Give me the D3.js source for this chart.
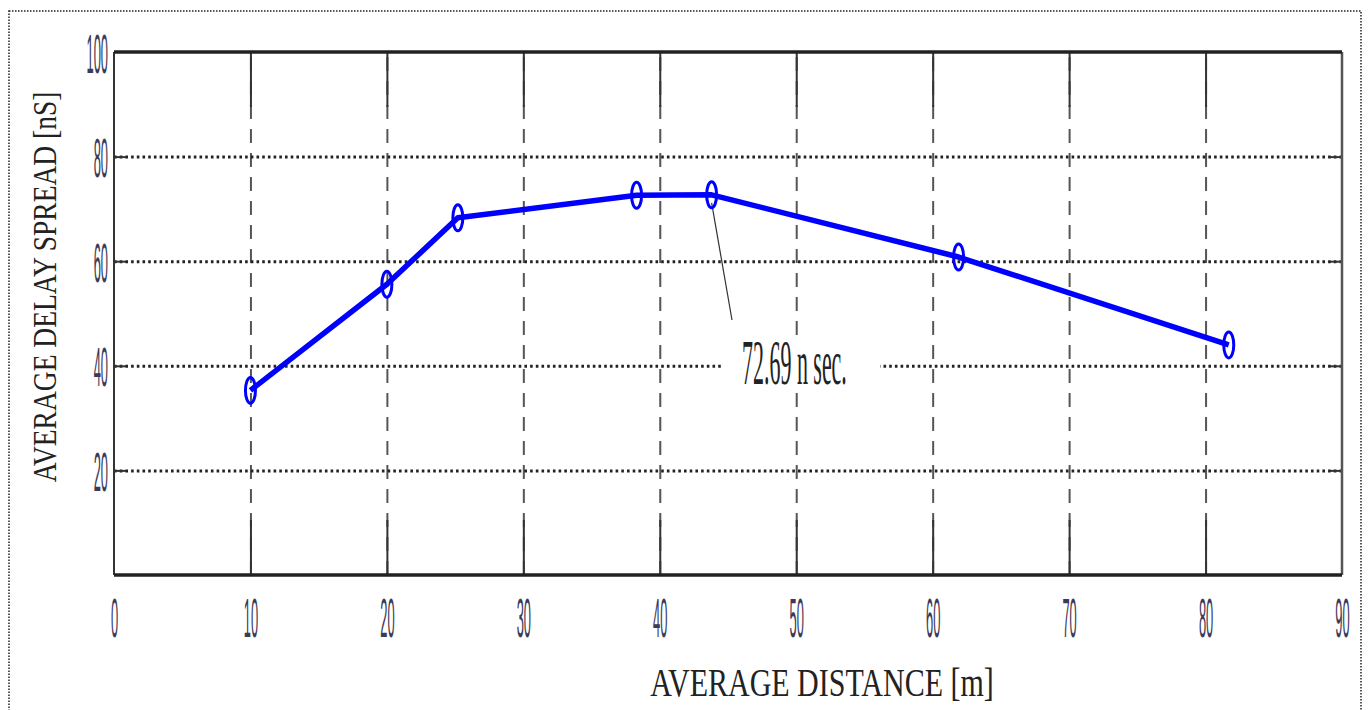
<!DOCTYPE html>
<html>
<head>
<meta charset="utf-8">
<script src="https://d3js.org/d3.v7.min.js"></script>
<style>
body { margin: 0; background: #fff; }
</style>
</head>
<body>
<script>
// data
const distance = [10, 20, 25.2, 38.3, 43.8, 61.9, 81.7];
const delaySpread = [35.3, 55.6, 68.3, 72.6, 72.69, 60.8, 44.0];
const xTicks = [0, 10, 20, 30, 40, 50, 60, 70, 80, 90];
const yTicks = [20, 40, 60, 80, 100];
const peakLabel = "72.69 n sec.";

const width = 1369, height = 710;
const plotL = 114, plotR = 1342, plotT = 52, plotB = 575;
const serif = "'Liberation Serif', 'Times New Roman', 'DejaVu Serif', serif";
const sans = "'Liberation Sans', Arial, sans-serif";

var svg = d3.select("body").append("svg")
  .attr("width", width)
  .attr("height", height);

var x = d3.scaleLinear().domain([0, 90]).range([plotL, plotR]);
var y = d3.scaleLinear().domain([0, 100]).range([plotB, plotT]);

// dotted outer border
svg.append("rect")
  .attr("x", 9).attr("y", 11)
  .attr("width", 1352).attr("height", 720)
  .attr("fill", "none")
  .attr("stroke", "#222")
  .attr("stroke-width", 1.5)
  .attr("stroke-dasharray", "1.5,1.5");

// vertical grid (dashed)
svg.append("g")
  .attr("transform", "translate(0," + plotB + ")")
  .call(d3.axisBottom(x).tickValues(xTicks.slice(1, -1)).tickSize(-(plotB - plotT)).tickFormat(""))
  .call(g => g.select(".domain").remove())
  .selectAll("line")
  .attr("stroke", "#555")
  .attr("stroke-width", 2)
  .attr("stroke-dasharray", "14,10");

// horizontal grid (dotted)
svg.append("g")
  .attr("transform", "translate(" + plotL + ",0)")
  .call(d3.axisLeft(y).tickValues(yTicks.slice(0, -1)).tickSize(-(plotR - plotL)).tickFormat(""))
  .call(g => g.select(".domain").remove())
  .selectAll("line")
  .attr("stroke", "#222")
  .attr("stroke-width", 3)
  .attr("stroke-dasharray", "2.6,3.1");

// tick marks inside the box
function ticks(axis, tr, vals, len) {
  svg.append("g")
    .attr("transform", tr)
    .call(axis.tickValues(vals).tickSize(-len).tickFormat(""))
    .call(g => g.select(".domain").remove())
    .selectAll("line")
    .attr("stroke", "#333")
    .attr("stroke-width", 2);
}
ticks(d3.axisBottom(x), "translate(0," + plotB + ")", xTicks.slice(1, -1), 55);
ticks(d3.axisTop(x), "translate(0," + plotT + ")", xTicks.slice(1, -1), 55);
ticks(d3.axisLeft(y), "translate(" + plotL + ",0)", yTicks.slice(0, -1), 12);
ticks(d3.axisRight(y), "translate(" + plotR + ",0)", yTicks.slice(0, -1), 12);

// box
svg.append("line").attr("x1", plotL).attr("x2", plotL).attr("y1", plotT).attr("y2", plotB)
  .attr("stroke", "#333").attr("stroke-width", 2);
svg.append("line").attr("x1", plotR).attr("x2", plotR).attr("y1", plotT).attr("y2", plotB)
  .attr("stroke", "#555").attr("stroke-width", 2.5);
svg.append("line").attr("x1", plotL).attr("x2", plotR).attr("y1", plotT).attr("y2", plotT)
  .attr("stroke", "#222").attr("stroke-width", 3.5);
svg.append("line").attr("x1", plotL).attr("x2", plotR).attr("y1", plotB).attr("y2", plotB)
  .attr("stroke", "#222").attr("stroke-width", 3.5);

// tick labels, tall and narrow
svg.append("g")
  .attr("transform", "translate(0," + plotB + ")")
  .call(d3.axisBottom(x).tickValues(xTicks).tickSize(0).tickPadding(0).tickFormat(d3.format("d")))
  .call(g => g.select(".domain").remove())
  .selectAll("text")
  .attr("y", 0).attr("dy", "0.36em")
  .attr("transform", "translate(0,42) scale(0.46,2)")
  .style("font-family", sans)
  .attr("font-size", 28)
  .attr("fill", "#3b3a58");

svg.append("g")
  .attr("transform", "translate(" + plotL + ",0)")
  .call(d3.axisLeft(y).tickValues(yTicks).tickSize(0).tickPadding(0).tickFormat(d3.format("d")))
  .call(g => g.select(".domain").remove())
  .selectAll("text")
  .attr("x", 0).attr("dy", "0.36em")
  .attr("transform", "translate(-6,0) scale(0.46,2)")
  .style("font-family", sans)
  .attr("font-size", 28)
  .attr("fill", "#3b3a58");

// annotation
var peak = 4;
svg.append("rect")
  .attr("x", 722).attr("y", 336)
  .attr("width", 158).attr("height", 52)
  .attr("fill", "#fff");
svg.append("line")
  .attr("x1", x(distance[peak])).attr("y1", y(delaySpread[peak]) + 8)
  .attr("x2", 732).attr("y2", 320)
  .attr("stroke", "#333").attr("stroke-width", 1.2);
svg.append("text")
  .attr("transform", "translate(742,362) scale(0.61,1.75)")
  .attr("dy", "0.35em")
  .style("font-family", serif)
  .attr("font-size", 36)
  .attr("fill", "#222")
  .text(peakLabel);

// the series
var pts = distance.map((d, i) => [d, delaySpread[i]]);
svg.append("path")
  .datum(pts)
  .attr("fill", "none")
  .attr("stroke", "#0000ff")
  .attr("stroke-width", 5.5)
  .attr("stroke-linejoin", "round")
  .attr("d", d3.line().x(d => x(d[0])).y(d => y(d[1])));

svg.selectAll("ellipse.mk")
  .data(pts)
  .enter().append("ellipse")
  .attr("class", "mk")
  .attr("cx", d => x(d[0]))
  .attr("cy", d => y(d[1]))
  .attr("rx", 5).attr("ry", 13)
  .attr("fill", "none")
  .attr("stroke", "#0000ff")
  .attr("stroke-width", 3);

// axis titles
svg.append("text")
  .attr("transform", "translate(822,696) scale(1,1.35)")
  .attr("text-anchor", "middle")
  .style("font-family", serif)
  .attr("font-size", 30)
  .attr("fill", "#222")
  .text("AVERAGE DISTANCE [m]");

svg.append("text")
  .attr("transform", "translate(56,287) rotate(-90) scale(1,1.2)")
  .attr("text-anchor", "middle")
  .style("font-family", serif)
  .attr("font-size", 27.5)
  .attr("fill", "#222")
  .text("AVERAGE DELAY SPREAD [nS]");
</script>
</body>
</html>
